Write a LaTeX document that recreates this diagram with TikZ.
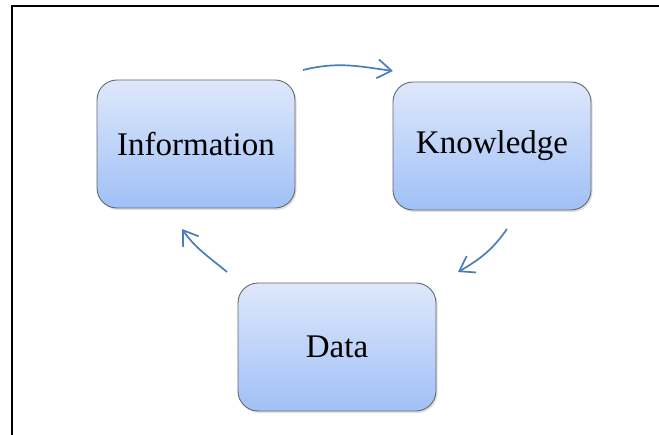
\documentclass[tikz,border=0pt]{standalone}
\usepackage{fontspec}
\setmainfont{Liberation Serif}
\usetikzlibrary{arrows.meta,shadows}
\definecolor{boxtop}{RGB}{222,232,251}
\definecolor{boxbot}{RGB}{160,192,247}
\definecolor{arrblue}{RGB}{74,126,187}

\begin{document}
\begin{tikzpicture}[x=1pt,y=-1pt,
    flow/.style={-{Straight Barb[length=14pt,width=19pt]},line width=1.7pt,arrblue}]
\useasboundingbox (0,0) rectangle (659,435);
\draw[line width=1.8pt] (12,435) -- (12,6) -- (659,6);

\begin{scope}[every node/.style={rectangle,rounded corners=20pt,draw=black!60,line width=0.9pt,
    top color=boxtop,bottom color=boxbot,minimum width=198pt,minimum height=128pt,
    drop shadow={opacity=0.25,shadow xshift=1.5pt,shadow yshift=-2pt},
    font=\fontsize{33}{40}\selectfont}]
    \node (info) at (196,144) {Information};
    \node (know) at (492,146) {Knowledge};
    \node (data) at (337,347) {Data};
\end{scope}

\coordinate (i2k) at (303,70);
\coordinate (k2i) at (393,71);
\coordinate (k2d) at (507,229);
\coordinate (d2k) at (458,272);
\coordinate (d2i) at (227,272);
\coordinate (i2d) at (182,229);

\draw[flow] (i2k) to[out=14,in=172] (k2i);
\draw[flow] (k2d) to[out=-125,in=30] (d2k);
\draw[flow] (d2i) to[out=140,in=-55] (i2d);

\end{tikzpicture}
\end{document}
